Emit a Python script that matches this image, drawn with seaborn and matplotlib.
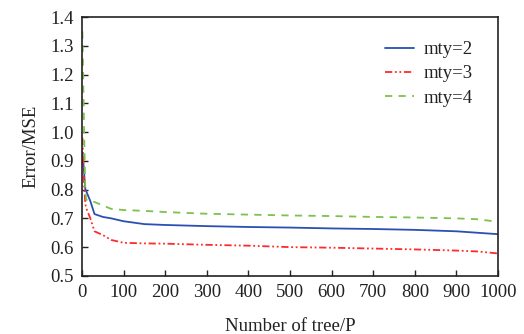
import numpy as np
import pandas as pd
import matplotlib
matplotlib.use("Agg")
import matplotlib.pyplot as plt
import seaborn as sns

trees = [1, 5, 8, 10, 20, 30, 50, 70, 100, 150, 200, 300, 400, 500, 600, 700, 800, 900, 950, 1000]
mty2 = [0.93, 0.86, 0.80, 0.795, 0.76, 0.715, 0.705, 0.700, 0.690, 0.680, 0.677, 0.673, 0.670, 0.668, 0.665, 0.663, 0.660, 0.655, 0.650, 0.645]
mty3 = [0.98, 0.82, 0.75, 0.736, 0.70, 0.655, 0.642, 0.625, 0.615, 0.613, 0.612, 0.608, 0.605, 0.600, 0.598, 0.595, 0.592, 0.588, 0.585, 0.578]
mty4 = [1.35, 1.00, 0.80, 0.765, 0.757, 0.757, 0.745, 0.733, 0.729, 0.726, 0.722, 0.716, 0.713, 0.710, 0.708, 0.705, 0.703, 0.700, 0.697, 0.688]
labels = ["mty=2", "mty=3", "mty=4"]

df = pd.DataFrame({
    "tree": trees * 3,
    "mse": mty2 + mty3 + mty4,
    "series": [labels[0]] * len(trees) + [labels[1]] * len(trees) + [labels[2]] * len(trees),
})

sns.set_theme(style="ticks")
plt.rcParams["font.family"] = ["Liberation Serif", "DejaVu Serif"]
plt.rcParams["xtick.direction"] = "in"
plt.rcParams["ytick.direction"] = "in"

fig = plt.figure(figsize=(5.24, 3.34), dpi=100)
ax = fig.add_axes([0.1565, 0.174, 0.794, 0.775])

palette = {"mty=2": "#2b4fb3", "mty=3": "#ff2a2a", "mty=4": "#7cc24c"}
dashes = {"mty=2": "", "mty=3": (4, 1.5, 1, 1.5, 1, 1.5), "mty=4": (4, 3.5)}
sns.lineplot(data=df, x="tree", y="mse", hue="series", style="series",
             palette=palette, dashes=dashes, ax=ax, linewidth=1.3)

ax.set_xlim(0, 1000)
ax.set_ylim(0.5, 1.4)
ax.set_xticks(np.arange(0, 1001, 100))
yt = [0.5, 0.6, 0.7, 0.8, 0.9, 1.0, 1.1, 1.2, 1.3, 1.4]
ax.set_yticks(yt)
ax.set_yticklabels([f"{v:.1f}" for v in yt])
ax.tick_params(axis="both", labelsize=13.5, length=4, width=1, colors="#222222",
               top=False, right=False, pad=6)
ax.set_xlabel("Number of tree/P", fontsize=13.5, color="#222222", labelpad=12)
ax.set_ylabel("Error/MSE", fontsize=13.5, color="#222222", labelpad=8)
for s in ax.spines.values():
    s.set_linewidth(1.2)
    s.set_color("#222222")

leg = ax.legend(frameon=False, fontsize=13.5, loc="upper left",
                bbox_to_anchor=(385 / 524, 1 - 41 / 334), bbox_transform=fig.transFigure,
                borderpad=0, borderaxespad=0,
                handlelength=1.55, handletextpad=0.5, labelspacing=0.38)
for t in leg.get_texts():
    t.set_color("#222222")

fig.savefig("out.png", dpi=100)
